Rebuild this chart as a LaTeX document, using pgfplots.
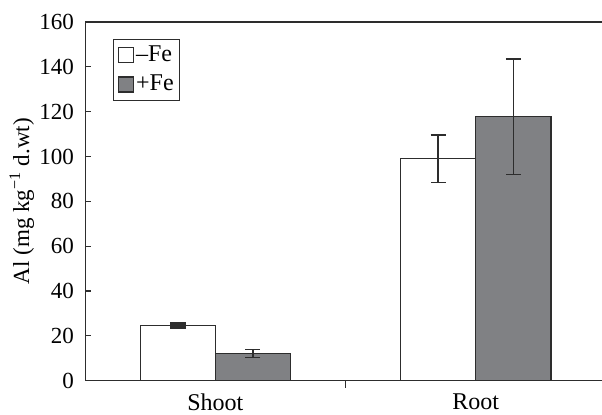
\documentclass[border=0pt]{standalone}
\usepackage{pgfplots}
\pgfplotsset{compat=1.18}
\usepackage{fontspec}
\setmainfont{Liberation Serif}
\definecolor{barfill}{RGB}{128,129,132}
\definecolor{edge}{RGB}{45,45,45}
\begin{document}
\fontsize{24}{28}\selectfont
\begin{tikzpicture}
\pgfplotsset{
  mylegend/.style={legend image code/.code={\draw[##1, line width=1.2pt] (0pt,-7.5pt) rectangle (15pt,7.5pt);}},
}
\begin{axis}[
  name=ax,
  scale only axis, width=520pt, height=358pt,
  xmin=-0.5, xmax=1.5, ymin=0, ymax=160,
  axis x line*=bottom, axis y line*=left,
  axis line style={draw=edge, line width=1.2pt},
  ytick={0,20,...,160},
  y tick style={draw=edge, line width=1.2pt},
  tick align=inside, major tick length=6pt,
  xtick={0,1}, xticklabels={Shoot,Root},
  x tick style={draw=none},
  extra x ticks={0.5}, extra x tick labels={},
  extra x tick style={x tick style={draw=edge, line width=1.2pt}, major tick length=7pt},
  /pgf/number format/assume math mode=true,
  ticklabel style={font=\fontsize{23}{27}\selectfont},
  yticklabel style={xshift=-3pt},
  xticklabel style={yshift=1pt, font=\fontsize{24}{26}\selectfont},
  ylabel={Al (mg kg\textsuperscript{−1} d.wt)},
  ylabel style={font=\fontsize{23}{27}\selectfont, yshift=-11pt},
  ybar, bar width=75pt,
  legend style={at={(0.054,0.953)}, anchor=north west, draw=edge, line width=1.2pt,
    font=\fontsize{24}{28}\selectfont, row sep=6pt, inner sep=4pt,
    legend cell align=left},
]
\addplot[fill=white, draw=edge, line width=1.2pt, mylegend, bar shift=-37.5pt,
  error bars/.cd, y dir=both, y explicit,
  error bar style={line width=1.5pt, draw=edge},
  error mark options={rotate=90, mark size=7.5pt, line width=1.5pt, draw=edge}]
  coordinates {(1,99) +- (0,10.6)};
\addplot[fill=barfill, draw=edge, line width=1.2pt, mylegend, bar shift=37.5pt,
  error bars/.cd, y dir=both, y explicit,
  error bar style={line width=1.5pt, draw=edge},
  error mark options={rotate=90, mark size=7.5pt, line width=1.5pt, draw=edge}]
  coordinates {(0,12.2) +- (0,1.8) (1,117.8) +- (0,25.8)};
\addplot[fill=white, draw=edge, line width=1.2pt, bar shift=-37.5pt, forget plot,
  error bars/.cd, y dir=both, y explicit,
  error bar style={line width=1.5pt, draw=edge},
  error mark options={rotate=90, mark size=8pt, line width=2.6pt, draw=edge}]
  coordinates {(0,24.6) +- (0,0.9)};
\legend{--Fe,+Fe}
\end{axis}
\draw[edge, line width=1.2pt] (ax.north west) -- (ax.north east);
\pgfresetboundingbox
\path[use as bounding box] ([xshift=-85pt,yshift=-34pt]ax.south west) rectangle ([xshift=-4pt,yshift=22pt]ax.north east);
\end{tikzpicture}
\end{document}
